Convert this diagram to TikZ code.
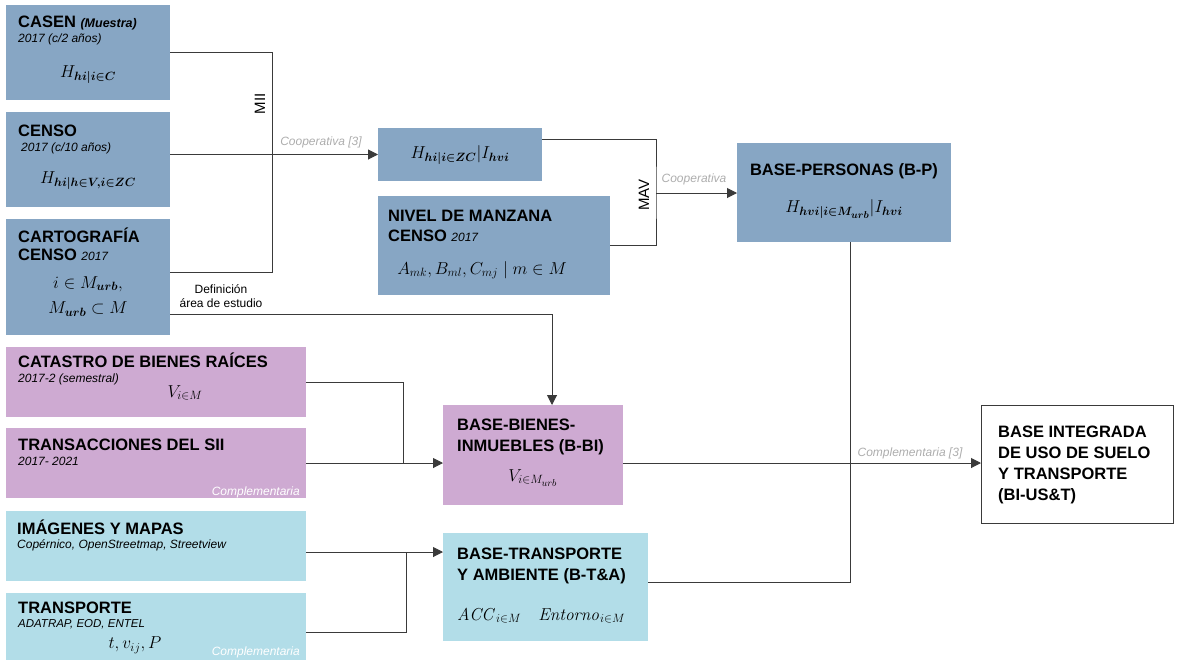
\documentclass[tikz,border=0pt]{standalone}
\usepackage{amsmath}
\usepackage[no-math]{fontspec}
\setmainfont{Liberation Sans}
\usetikzlibrary{arrows.meta,calc}
\definecolor{cblue}{HTML}{87A6C4}
\definecolor{cpurp}{HTML}{CEAAD2}
\definecolor{clblue}{HTML}{B2DDE8}
\definecolor{lgray}{HTML}{ADADAD}
\definecolor{lnk}{HTML}{3A3A3A}
\begin{document}
\begin{tikzpicture}[x=1pt,y=-1pt,
  box/.style={anchor=north west, inner sep=0pt, outer sep=0pt},
  ttl/.style={anchor=base west, inner sep=0pt, font=\fontsize{16.5}{20}\selectfont\bfseries},
  sub/.style={anchor=base west, inner sep=0pt, font=\fontsize{12}{14}\selectfont\itshape},
  mth/.style={inner sep=0pt, font=\fontsize{17.28}{20}\selectfont},
  lbl/.style={inner sep=0pt, font=\fontsize{15}{18}\selectfont},
  glbl/.style={inner sep=0pt, text=lgray, font=\fontsize{12}{14}\selectfont\itshape},
  wlbl/.style={inner sep=0pt, anchor=base east, text=white, font=\fontsize{12}{14}\selectfont\itshape},
  conn/.style={draw=lnk, line width=1pt},
  arr/.style={conn, -{Triangle[length=10pt,width=10pt]}}]
\useasboundingbox (0,0) rectangle (1180,662);
% boxes
\node[box, fill=cblue, minimum width=164pt, minimum height=95pt] (casen) at (6,5) {};
\node[box, fill=cblue, minimum width=164pt, minimum height=95pt] (censo) at (6,112) {};
\node[box, fill=cblue, minimum width=164pt, minimum height=116pt] (carto) at (6,219) {};
\node[box, fill=cblue, minimum width=164pt, minimum height=53pt] (hbox) at (378,128) {};
\node[box, fill=cblue, minimum width=232pt, minimum height=99pt] (nivel) at (378,196) {};
\node[box, fill=cblue, minimum width=214pt, minimum height=99pt] (bp) at (737,143) {};
\node[box, fill=cpurp, minimum width=300pt, minimum height=70pt] (catastro) at (6,347) {};
\node[box, fill=cpurp, minimum width=300pt, minimum height=70pt] (trans) at (6,428) {};
\node[box, fill=cpurp, minimum width=180pt, minimum height=100pt] (bbi) at (443,405) {};
\node[box, fill=clblue, minimum width=300pt, minimum height=70pt] (imag) at (6,511) {};
\node[box, fill=clblue, minimum width=300pt, minimum height=67pt] (transp) at (6,593) {};
\node[box, fill=clblue, minimum width=205pt, minimum height=108pt] (bta) at (443,533) {};
\node[box, fill=white, draw=lnk, line width=0.8pt, minimum width=192pt, minimum height=118pt] (biust) at (981,405) {};
% texts CASEN
\node[ttl] (t1) at (18,27) {CASEN {\fontsize{12.5}{15}\selectfont\itshape (Muestra)}};
\node[sub] (s1) at (18,42) {2017 (c/2 años)};
\node[mth] (m1) at (88,75) {$H_{\boldsymbol{hi|i\in C}}$};
% CENSO
\node[ttl] (t2) at (18,136) {CENSO};
\node[sub] (s2) at (21,151) {2017 (c/10 años)};
\node[mth] (m2) at (88,181) {$H_{\boldsymbol{hi|h\in V,i\in ZC}}$};
% CARTOGRAFIA
\node[ttl] (t3a) at (18,242) {CARTOGRAFÍA};
\node[ttl] (t3b) at (18,260) {CENSO {\fontsize{12}{14}\selectfont\mdseries\itshape 2017}};
\node[mth] (m3a) at (88,284) {$i\in M_{\boldsymbol{urb}},$};
\node[mth] (m3b) at (88,309) {$M_{\boldsymbol{urb}}\subset M$};
% H box
\node[mth] (m4) at (460,155) {$H_{\boldsymbol{hi|i\in ZC}}|I_{\boldsymbol{hvi}}$};
% NIVEL
\node[ttl] (t5a) at (388,221) {NIVEL DE MANZANA};
\node[ttl] (t5b) at (388,241) {CENSO {\fontsize{12}{14}\selectfont\mdseries\itshape 2017}};
\node[mth] (m5) at (482,270) {$A_{mk},B_{ml},C_{mj}\mid m\in M$};
% B-P
\node[ttl, anchor=base] (t6) at (844,175) {BASE-PERSONAS (B-P)};
\node[mth] (m6) at (844,209) {$H_{\boldsymbol{hvi|i\in M_{urb}}}|I_{\boldsymbol{hvi}}$};
% CATASTRO
\node[ttl] (t7) at (18,367) {CATASTRO DE BIENES RAÍCES};
\node[sub] (s7) at (18,382) {2017-2 (semestral)};
\node[mth] (m7) at (185,393) {$V_{i\in M}$};
% TRANSACCIONES
\node[ttl] (t8) at (18,450) {TRANSACCIONES DEL SII};
\node[sub] (s8) at (18,465) {2017- 2021};
\node[wlbl] (c8) at (300,495) {Complementaria};
% B-BI
\node[ttl] (t9a) at (457,430) {BASE-BIENES-};
\node[ttl] (t9b) at (457,451) {INMUEBLES (B-BI)};
\node[mth] (m9) at (533,478) {$V_{i\in M_{urb}}$};
% IMAGENES
\node[ttl] (t10) at (17,534) {IMÁGENES Y MAPAS};
\node[sub] (s10) at (17,548) {Copérnico, OpenStreetmap, Streetview};
% TRANSPORTE
\node[ttl] (t11) at (18,613) {TRANSPORTE};
\node[sub, font=\fontsize{11.5}{13}\selectfont\itshape] (s11) at (18,627) {ADATRAP, EOD, ENTEL};
\node[mth] (m11) at (135,645) {$t,v_{ij},P$};
\node[wlbl] (c11) at (300,655) {Complementaria};
% B-T&A
\node[ttl] (t12a) at (457,559) {BASE-TRANSPORTE};
\node[ttl] (t12b) at (457,580) {Y AMBIENTE (B-T\&A)};
\node[mth, anchor=base west] (m12) at (457,620) {$\mathit{ACC}_{i\in M}\quad \mathit{Entorno}_{i\in M}$};
% BI-US&T
\node[ttl] (t13a) at (998,437) {BASE INTEGRADA};
\node[ttl] (t13b) at (998,458) {DE USO DE SUELO};
\node[ttl] (t13c) at (998,479) {Y TRANSPORTE};
\node[ttl] (t13d) at (998,500) {(BI-US\&T)};
% connectors
\coordinate (mii) at (272,155);
\draw[conn] (casen.east) -| (mii);
\draw[conn] (mii) |- ($(carto.north east)+(0,53)$);
\draw[arr] (censo.east |- hbox.west) -- (hbox.west);
\draw[arr] ($(carto.north east)+(0,95)$) -| ($(bbi.north west)+(109,0)$);
\coordinate (mav) at (656,193);
\draw[conn] ($(hbox.north east)+(0,11)$) -| (mav) |- (nivel.east);
\draw[arr] (mav) -- (mav -| bp.west);
\draw[conn] ($(bp.south)+(6,0)$) |- ($(bta.east)+(0,-5)$);
\coordinate (bbo) at ($(bbi.east)+(0,8)$);
\draw[arr] (bbo) -- (bbo -| biust.west);
\coordinate (jb) at (403,463);
\draw[conn] (catastro.east) -| (jb);
\draw[arr] (trans.east) -- (trans.east -| bbi.west);
\coordinate (jt) at (406,552);
\draw[arr] (imag.east |- jt) -- (jt -| bta.west);
\draw[conn] ($(transp.east)+(0,6)$) -| (jt);
% connector labels
\node[lbl, rotate=90] (lmii) at (260,104) {MII};
\node[lbl, rotate=90] (lmav) at (644,195) {MAV};
\node[glbl] (lcoop1) at (321,142) {Cooperativa [3]};
\node[glbl] (lcoop2) at (694,179) {Cooperativa};
\node[glbl] (lcomp) at (910,453) {Complementaria [3]};
\node[inner sep=0pt, anchor=base, font=\fontsize{12}{14}\selectfont] (ldef1) at (221,293) {Definición};
\node[inner sep=0pt, anchor=base, font=\fontsize{12}{14}\selectfont] (ldef2) at (221,307) {área de estudio};
\end{tikzpicture}
\end{document}
